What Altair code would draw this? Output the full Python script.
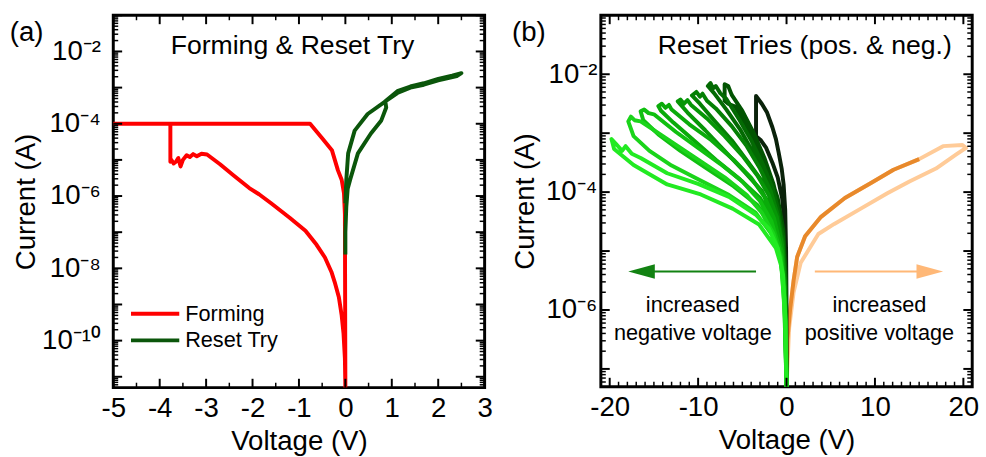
import altair as alt
import pandas as pd

FONT = "Liberation Sans"

# ---------------- Panel (a): values (log10 of current in A) ----------------
forming_v = [0, -0.01, -0.04, -0.08, -0.14, -0.23, -0.3, -0.44, -0.62, -0.86, -1.2, -1.6, -1.86,
             -2.07, -2.4, -2.7, -2.98, -3.1, -3.2, -3.28, -3.35, -3.42, -3.5, -3.55, -3.6, -3.65,
             -3.7, -3.75, -3.77, -3.77, -5.0, -0.76, -0.5, -0.29, -0.16, -0.08, -0.03, -0.01, 0.0]
forming_log_i = [-11.3, -10.5, -9.8, -9.3, -8.8, -8.38, -8.1, -7.7, -7.35, -6.96, -6.6, -6.2, -5.95,
                 -5.78, -5.44, -5.12, -4.85, -4.83, -4.9, -4.84, -4.92, -4.87, -5.0, -5.18, -4.95, -5.05,
                 -5.1, -5.0, -5.05, -4.0, -4.0, -4.0, -4.4, -4.73, -5.29, -5.55, -5.92, -6.5, -11.3]
reset_v = [0, 0, 0.02, 0.05, 0.1, 0.27, 0.55, 0.77, 0.88, 0.86, 1.12, 1.4, 1.69, 2.0, 2.26, 2.4, 2.5,
           2.3, 2.0, 1.69, 1.4, 1.12, 0.84, 0.48, 0.2, 0.06, 0.02, 0.0]
reset_log_i = [-7.62, -7.0, -6.3, -5.8, -5.56, -4.82, -4.27, -3.92, -3.55, -3.38, -3.15, -3.0, -2.92,
               -2.8, -2.72, -2.68, -2.6, -2.67, -2.76, -2.88, -2.97, -3.1, -3.4, -3.73, -4.19, -4.82,
               -5.56, -6.2]
series_a = ["Forming", "Reset Try"]
colors_a = ["#ff0000", "#0b560b"]

# ---------------- Panel (b): reset tries ----------------
loop1_v = [0, -0.05, -0.2, -0.5, -1.0, -1.6, -2.3, -2.9, -3.45, -3.45, -2.8, -2.2, -1.6, -1.2, -0.9, -0.55, -0.33, -0.15, -0.05, 0, 0]
loop1_log_i = [-7.3, -5.5, -4.6, -4.1, -3.75, -3.5, -3.25, -3.12, -3.05, -2.37, -2.5, -2.65, -2.9, -3.1, -3.32, -3.6, -3.87, -4.3, -5.0, -6.0, -7.3]
loop2_v = [0, -0.1, -0.35, -1.0, -2.0, -3.2, -4.5, -5.8, -6.6, -7.0, -7.0, -6.6, -6.2, -5.0, -3.7, -2.5, -1.5, -0.8, -0.35, -0.1, 0]
loop2_log_i = [-7.3, -5.4, -4.65, -4.1, -3.65, -3.25, -2.88, -2.55, -2.5, -2.45, -2.17, -2.2, -2.35, -2.62, -3.0, -3.42, -3.85, -4.28, -4.85, -5.6, -7.3]
loop3_v = [0, -0.12, -0.4, -1.1, -2.3, -3.7, -5.2, -6.8, -8.2, -8.9, -8.6, -8.3, -8.0, -7.5, -6.8, -5.3, -4.0, -2.7, -1.6, -0.9, -0.4, -0.12, 0]
loop3_log_i = [-7.3, -5.5, -4.75, -4.2, -3.75, -3.35, -2.95, -2.6, -2.32, -2.2, -2.15, -2.24, -2.2, -2.32, -2.42, -2.78, -3.12, -3.52, -3.92, -4.32, -4.85, -5.6, -7.3]
loop4_v = [0, -0.15, -0.45, -1.2, -2.6, -4.3, -6.2, -8.2, -9.8, -10.7, -10.2, -9.8, -9.5, -9.0, -8.0, -6.2, -4.5, -3.0, -1.8, -1.0, -0.45, -0.15, 0]
loop4_log_i = [-7.3, -5.6, -4.85, -4.3, -3.85, -3.5, -3.12, -2.78, -2.5, -2.36, -2.3, -2.38, -2.33, -2.45, -2.58, -2.88, -3.22, -3.6, -3.98, -4.38, -4.88, -5.6, -7.3]
loop5_v = [0, -0.18, -0.5, -1.3, -2.8, -4.8, -7.0, -9.2, -11.2, -12.3, -12.0, -11.6, -11.2, -10.8, -9.0, -7.0, -5.0, -3.3, -2.0, -1.1, -0.5, -0.2, 0]
loop5_log_i = [-7.3, -5.7, -4.95, -4.4, -3.98, -3.65, -3.3, -2.95, -2.65, -2.46, -2.43, -2.5, -2.44, -2.52, -2.75, -3.05, -3.38, -3.72, -4.05, -4.42, -4.9, -5.6, -7.3]
loop6_v = [0, -0.2, -0.55, -1.4, -3.0, -5.3, -8.0, -10.5, -12.8, -14.2, -14.5, -14.1, -13.7, -13.3, -13.0, -11.0, -8.5, -6.0, -4.0, -2.5, -1.4, -0.7, -0.25, 0]
loop6_log_i = [-7.3, -5.8, -5.0, -4.5, -4.1, -3.78, -3.45, -3.12, -2.82, -2.62, -2.54, -2.5, -2.57, -2.52, -2.6, -2.85, -3.12, -3.45, -3.76, -4.08, -4.45, -4.9, -5.6, -7.3]
loop7_v = [0, -0.2, -0.6, -1.5, -3.3, -6.0, -9.0, -12.0, -14.5, -16.2, -16.5, -16.1, -15.6, -15.0, -12.5, -10.0, -7.5, -5.0, -3.0, -1.7, -0.8, -0.3, 0]
loop7_log_i = [-7.3, -5.9, -5.1, -4.62, -4.22, -3.9, -3.6, -3.3, -3.02, -2.78, -2.63, -2.6, -2.66, -2.68, -2.98, -3.25, -3.52, -3.82, -4.15, -4.5, -4.95, -5.65, -7.3]
loop8_v = [0, -0.2, -0.6, -1.5, -3.5, -6.5, -10.0, -13.0, -15.5, -17.3, -17.9, -17.6, -17.2, -16.5, -15.0, -12.5, -10.0, -7.0, -4.5, -2.8, -1.5, -0.7, -0.25, 0]
loop8_log_i = [-7.3, -6.0, -5.2, -4.75, -4.35, -4.05, -3.78, -3.55, -3.3, -3.05, -2.8, -2.72, -2.78, -2.8, -2.95, -3.2, -3.45, -3.75, -4.05, -4.35, -4.7, -5.1, -5.8, -7.3]
loop9_v = [0, -0.15, -0.55, -1.2, -3.1, -6.1, -9.7, -13.5, -17.3, -19.5, -19.8, -19.3, -18.6, -18.2, -17.5, -16.5, -13.5, -10.0, -6.5, -3.5, -2.0, -1.0, -0.4, -0.1, 0]
loop9_log_i = [-7.3, -6.2, -5.28, -4.95, -4.55, -4.28, -4.04, -3.87, -3.54, -3.27, -3.1, -3.18, -3.3, -3.22, -3.35, -3.42, -3.68, -3.86, -4.08, -4.38, -4.62, -4.95, -5.4, -6.2, -7.3]
neg_loops_v = [loop1_v, loop2_v, loop3_v, loop4_v, loop5_v, loop6_v, loop7_v, loop8_v, loop9_v]
neg_loops_log_i = [loop1_log_i, loop2_log_i, loop3_log_i, loop4_log_i, loop5_log_i, loop6_log_i,
                   loop7_log_i, loop8_log_i, loop9_log_i]
neg_colors = ["#0b230b", "#025402", "#036a03", "#058005", "#079607", "#0aab0a", "#10c010", "#1ad41a", "#22ea22"]

pos20_v = [0, 0.1, 0.4, 0.8, 1.2, 2.1, 3.9, 6.6, 9.5, 12.1, 15, 17.7, 19.9, 20.3, 19.2, 16.9, 13.9,
           11.4, 8.4, 5.4, 3.6, 1.6, 0.8, 0.3, 0]
pos20_log_i = [-7.3, -6.5, -6.0, -5.5, -5.1, -4.75, -4.42, -4.1, -3.85, -3.62, -3.44, -3.22, -3.2,
               -3.25, -3.36, -3.6, -3.82, -4.02, -4.28, -4.54, -4.71, -5.2, -5.7, -6.3, -7.3]
pos15_v = [0, 0.1, 0.4, 0.8, 1.2, 2.1, 3.9, 6.6, 9.5, 12.1, 15]
pos15_log_i = [-7.3, -6.5, -6.0, -5.5, -5.1, -4.75, -4.42, -4.1, -3.85, -3.62, -3.44]
pos_colors = ["#ffcb98", "#e8892b"]

# annotation arrows (V, current) and texts
arrow_neg = {"v1": -3.45, "v2": -16.3, "head": -16.4, "i": 4.5e-6}
arrow_pos = {"v1": 3.2, "v2": 16.1, "head": 16.2, "i": 4.5e-6}
notes_v = [-10.6, -10.6, 10.5, 10.5]
notes_i = [1.2e-6, 4.0e-7, 1.2e-6, 4.0e-7]
notes_text = ["increased", "negative voltage", "increased", "positive voltage"]

# ---------------- helpers ----------------
SUP = ("'10⁻' + replace(replace(replace(replace(replace(replace('' + abs(round(log(datum.value)/LN10)),"
       " '1', '¹'), '0', '⁰'), '2', '²'), '4', '⁴'), '6', '⁶'), '8', '⁸')")


def axis_x(values):
    return alt.Axis(values=values, labelExpr="'' + datum.value", ticks=False, tickSize=0, domain=False,
                    grid=False, labelFont=FONT, labelFontSize=28, labelColor="black", labelPadding=7,
                    labelFlush=False, labelOverlap=False, title="Voltage (V)", titleFont=FONT,
                    titleFontSize=28, titleFontWeight="normal", titleColor="black", titlePadding=6)


def axis_y(values, pad, tpad):
    return alt.Axis(values=values, labelExpr=SUP, ticks=False, tickSize=0, domain=False, grid=False,
                    labelFont=FONT, labelFontSize=28, labelColor="black", labelPadding=pad,
                    labelFlush=False, labelOverlap=False, title="Current (A)", titleFont=FONT,
                    titleFontSize=28, titleFontWeight="normal", titleColor="black", titlePadding=tpad)


def frame_ticks(W, H, xs, ys, ax, ay, xmaj, xmin, ymaj, ymin):
    layers = []
    for vals, ln, sw in [(ymaj, 9, 2), (ymin, 5, 1.5)]:
        b = alt.Chart(pd.DataFrame({"t": vals})).mark_rule(color="black", strokeWidth=sw)
        y = alt.Y("t:Q", scale=ys, axis=ay)
        layers.append(b.encode(y=y, x=alt.value(0), x2=alt.value(ln)))
        layers.append(b.encode(y=y, x=alt.value(W), x2=alt.value(W - ln)))
    for vals, ln, sw in [(xmaj, 9, 2), (xmin, 5, 1.5)]:
        b = alt.Chart(pd.DataFrame({"t": vals})).mark_rule(color="black", strokeWidth=sw)
        x = alt.X("t:Q", scale=xs, axis=ax)
        layers.append(b.encode(x=x, y=alt.value(H), y2=alt.value(H - ln)))
        layers.append(b.encode(x=x, y=alt.value(0), y2=alt.value(ln)))
    return layers


def log_ticks(lo_exp, hi_exp, lo, hi):
    maj = [10.0 ** e for e in range(lo_exp, hi_exp + 1) if lo <= 10.0 ** e <= hi]
    mnr = [k * 10.0 ** e for e in range(lo_exp - 1, hi_exp + 1) for k in range(2, 10)
           if lo <= k * 10.0 ** e <= hi]
    return maj, mnr


txt = dict(font=FONT, color="black")

# ---------------- Panel (a) chart ----------------
WA, HA = 377, 378
xa = alt.Scale(domain=[-5, 3], nice=False, zero=False)
ya = alt.Scale(type="log", domain=[5e-12, 1e-1], nice=False)
axa = axis_x(list(range(-5, 4)))
aya = axis_y([1e-2, 1e-4, 1e-6, 1e-8, 1e-10], 13, 2)

rows = []
for name, col, vs, ls in [(series_a[0], colors_a[0], forming_v, forming_log_i),
                          (series_a[1], colors_a[1], reset_v, reset_log_i)]:
    for k, (v, l) in enumerate(zip(vs, ls)):
        rows.append({"series": name, "c": col, "V": v, "I": 10.0 ** l, "k": k})
df_a = pd.DataFrame(rows)

lines_a = alt.Chart(df_a).mark_line(strokeWidth=4, clip=True, strokeJoin="round").encode(
    x=alt.X("V:Q", scale=xa, axis=axa),
    y=alt.Y("I:Q", scale=ya, axis=aya),
    color=alt.Color("c:N", scale=None),
    detail="series:N",
    order="k:Q",
)
ymaj_a, ymin_a = log_ticks(-11, -1, 5e-12, 1e-1)
ticks_a = frame_ticks(WA, HA, xa, ya, axa, aya, list(range(-5, 4)), [x + 0.5 for x in range(-5, 3)],
                      ymaj_a, ymin_a)

title_a = alt.Chart().mark_text(text="Forming & Reset Try", fontSize=27, **txt).encode(
    x=alt.value(182), y=alt.value(31))
lab_a = alt.Chart().mark_text(text="(a)", fontSize=28, **txt).encode(x=alt.value(-88), y=alt.value(18))
leg = []
for j, (name, col) in enumerate(zip(series_a, colors_a)):
    yy = 303 + 27 * j
    leg.append(alt.Chart().mark_rule(color=col, strokeWidth=4).encode(
        x=alt.value(18), x2=alt.value(67), y=alt.value(yy)))
    leg.append(alt.Chart().mark_text(text=name, fontSize=22, align="left", baseline="middle", **txt).encode(
        x=alt.value(73), y=alt.value(yy)))

chart_a = alt.layer(lines_a, *ticks_a, title_a, lab_a, *leg).properties(width=WA, height=HA)

# ---------------- Panel (b) chart ----------------
WB, HB = 377, 377
xb = alt.Scale(domain=[-21, 21], nice=False, zero=False)
yb = alt.Scale(type="log", domain=[5e-8, 1e-1], nice=False)
axb = axis_x([-20, -10, 0, 10, 20])
ayb = axis_y([1e-2, 1e-4, 1e-6], 4, 6)

rows = []
curves = list(zip(["p20", "p15"], pos_colors, [pos20_v, pos15_v], [pos20_log_i, pos15_log_i]))
curves += [(f"n{n}", neg_colors[n], vs, ls) for n, (vs, ls) in enumerate(zip(neg_loops_v, neg_loops_log_i))]
for z, (nm, col, vs, ls) in enumerate(curves):
    for k, (v, l) in enumerate(zip(vs, ls)):
        rows.append({"series": f"{z:02d}{nm}", "c": col, "V": v, "I": 10.0 ** l, "k": k})
df_b = pd.DataFrame(rows)

lines_b = alt.Chart(df_b).mark_line(strokeWidth=4, clip=True, strokeJoin="round").encode(
    x=alt.X("V:Q", scale=xb, axis=axb),
    y=alt.Y("I:Q", scale=yb, axis=ayb),
    color=alt.Color("c:N", scale=None),
    detail="series:N",
    order="k:Q",
)
ymaj_b, ymin_b = log_ticks(-7, -1, 5e-8, 1e-1)
xmin_b = [v for v in range(-21, 22) if v % 10 != 0]
ticks_b = frame_ticks(WB, HB, xb, yb, axb, ayb, [-20, -10, 0, 10, 20], xmin_b, ymaj_b, ymin_b)

arrows = pd.DataFrame([
    {"v1": arrow_neg["v1"], "v2": arrow_neg["v2"], "h": arrow_neg["head"], "i": arrow_neg["i"], "c": "#128212",
     "shape": "M -1 0 L 1 -0.55 L 1 0.55 Z"},
    {"v1": arrow_pos["v1"], "v2": arrow_pos["v2"], "h": arrow_pos["head"], "i": arrow_pos["i"], "c": "#ffb877",
     "shape": "M 1 0 L -1 -0.55 L -1 0.55 Z"},
])
arrow_lines = alt.Chart(arrows).mark_rule(strokeWidth=2).encode(
    x=alt.X("v1:Q", scale=xb, axis=axb), x2="v2:Q",
    y=alt.Y("i:Q", scale=yb, axis=ayb), color=alt.Color("c:N", scale=None))
arrow_heads = alt.Chart(arrows).mark_point(filled=True, opacity=1, size=729, strokeWidth=0).encode(
    x=alt.X("h:Q", scale=xb, axis=axb), y=alt.Y("i:Q", scale=yb, axis=ayb),
    color=alt.Color("c:N", scale=None), shape=alt.Shape("shape:N", scale=None))
notes = alt.Chart(pd.DataFrame({"V": notes_v, "I": notes_i, "t": notes_text})).mark_text(
    fontSize=22, baseline="middle", **txt).encode(
    x=alt.X("V:Q", scale=xb, axis=axb), y=alt.Y("I:Q", scale=yb, axis=ayb), text="t:N")
title_b = alt.Chart().mark_text(text="Reset Tries (pos. & neg.)", fontSize=27, **txt).encode(
    x=alt.value(207), y=alt.value(31))
lab_b = alt.Chart().mark_text(text="(b)", fontSize=28, **txt).encode(x=alt.value(-73), y=alt.value(18))

chart_b = alt.layer(lines_b, *ticks_b, arrow_lines, arrow_heads, notes, title_b, lab_b).properties(
    width=WB, height=HB)

chart = alt.hconcat(chart_a, chart_b, spacing=16).properties(
    padding={"left": 8, "top": 9, "right": 5, "bottom": 5}, background="white"
).configure_view(stroke="black", strokeWidth=3)

chart.save("out.html", embed_options={"renderer": "svg", "actions": False})
